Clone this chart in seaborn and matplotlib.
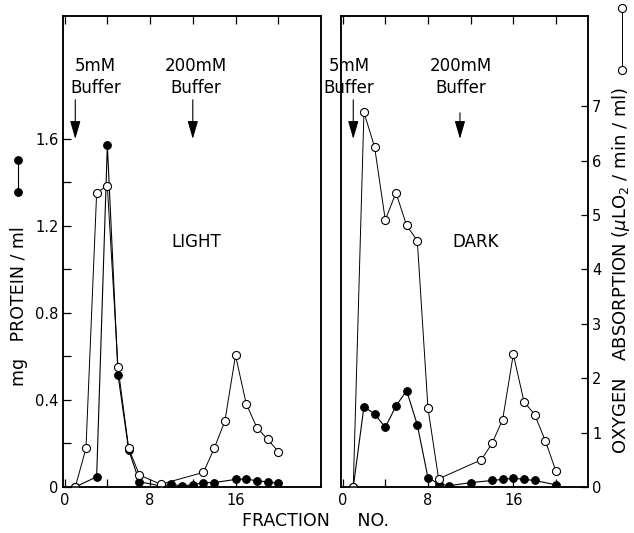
import numpy as np
import pandas as pd
import seaborn as sns
import matplotlib.pyplot as plt
from matplotlib.lines import Line2D

# fraction numbers and values
light_protein_x = [1, 3, 4, 5, 6, 7, 9, 10, 11, 12, 13, 14, 16, 17, 18, 19, 20]
light_protein_y = [0, 0.047, 1.572, 0.515, 0.17, 0.024, 0.005, 0.012, 0.005, 0.01,
                   0.02, 0.02, 0.035, 0.037, 0.028, 0.024, 0.017]
light_oxygen_x = [1, 2, 3, 4, 5, 6, 7, 9, 13, 14, 15, 16, 17, 18, 19, 20]
light_oxygen_y = [0, 0.71, 5.41, 5.54, 2.2, 0.71, 0.22, 0.05, 0.27, 0.71, 1.21,
                  2.42, 1.53, 1.09, 0.88, 0.65]

dark_protein_x = [1, 2, 3, 4, 5, 6, 7, 8, 9, 10, 12, 14, 15, 16, 17, 18, 20]
dark_protein_y = [0, 0.369, 0.336, 0.274, 0.372, 0.443, 0.286, 0.043, 0.014, 0.006,
                  0.02, 0.03, 0.035, 0.04, 0.035, 0.03, 0.01]
dark_oxygen_x = [1, 2, 3, 4, 5, 6, 7, 8, 9, 13, 14, 15, 16, 17, 18, 19, 20]
dark_oxygen_y = [0, 6.89, 6.25, 4.91, 5.41, 4.81, 4.53, 1.45, 0.15, 0.5, 0.8,
                 1.24, 2.44, 1.57, 1.33, 0.85, 0.29]

protein_ticks = [0, 0.4, 0.8, 1.2, 1.6]
oxygen_ticks = [0, 1, 2, 3, 4, 5, 6, 7]
fraction_ticks = [0, 8, 16]

sns.set_style("ticks")
plt.rcParams['font.family'] = ['DejaVu Sans']
plt.rcParams['axes.linewidth'] = 1.1
plt.rcParams['text.color'] = 'k'
plt.rcParams['xtick.color'] = 'k'
plt.rcParams['ytick.color'] = 'k'
plt.rcParams['axes.edgecolor'] = 'k'

fig = plt.figure(figsize=(6.34, 5.33), dpi=100)
ax1 = fig.add_axes([63/634, 46/533, 258/634, 471/533])
ax2 = fig.add_axes([341/634, 46/533, 247/634, 471/533])

filled = dict(marker='o', color='k', lw=0.8, markersize=5.5,
              markerfacecolor='k', markeredgecolor='k', markeredgewidth=0.8)
opened = dict(marker='o', color='k', lw=0.7, markersize=5.8,
              markerfacecolor='w', markeredgecolor='k', markeredgewidth=0.8)


def panel(ax, px, py, ox, oy, xmax, label, lab_x, arrows):
    sns.lineplot(x=px, y=py, ax=ax, **filled)
    ax.set_ylim(0, 2.165)
    ax.set_xlim(-0.15, xmax)
    tw = ax.twinx()
    sns.lineplot(x=ox, y=oy, ax=tw, **opened)
    tw.set_ylim(0, 8.66)
    for a in (ax, tw):
        a.set_xlabel('')
        a.set_ylabel('')
        for s in a.spines.values():
            s.set_visible(True)
            s.set_linewidth(1.1)
            s.set_color('k')
    ax.set_xticks(np.arange(0, 21, 4))
    ax.set_xticklabels([str(t) if t in fraction_ticks else '' for t in range(0, 21, 4)])
    ax.tick_params(axis='x', direction='in', length=6, width=0.9, top=True,
                   labelsize=10.5, pad=4)
    ax.text(lab_x, 1.127, label, ha='center', va='center', fontsize=12)
    for (ax_x, tx, y0) in arrows:
        ax.text(tx, 1.885, '5mM\nBuffer' if ax_x < 5 else '200mM\nBuffer',
                ha='center', va='center', fontsize=12, linespacing=1.25,
                clip_on=False)
        ax.annotate('', xy=(ax_x, 1.60), xytext=(ax_x, y0),
                    arrowprops=dict(arrowstyle='-|>,head_length=1.1,head_width=0.32',
                                    color='k', lw=0.8, shrinkA=0, shrinkB=0))
    return tw


tw1 = panel(ax1, light_protein_x, light_protein_y, light_oxygen_x, light_oxygen_y,
            24, 'LIGHT', 12.3, [(1, 2.9, 1.78), (12, 12.3, 1.78)])
tw2 = panel(ax2, dark_protein_x, dark_protein_y, dark_oxygen_x, dark_oxygen_y,
            23, 'DARK', 12.45, [(1, 0.6, 1.78), (11, 11.1, 1.72)])

ax1.set_yticks(np.arange(0, 1.61, 0.2))
ax1.set_yticklabels([('0' if t == 0 else f'{t:.1f}') if round(t, 1) in protein_ticks
                     else '' for t in np.arange(0, 1.61, 0.2)])
ax1.tick_params(axis='y', direction='in', length=6, width=0.9, labelsize=10.5, pad=3)
tw1.set_yticks([])

ax2.set_yticks([])
tw2.set_yticks(oxygen_ticks)
tw2.set_yticklabels([str(t) for t in oxygen_ticks])
tw2.tick_params(axis='y', direction='in', length=5, width=0.9, labelsize=10.5, pad=3)

# axis titles
fig.text(19/634, 1 - 306/533, 'mg   PROTEIN / ml', rotation=90, ha='center',
         va='center', fontsize=12.5)
fig.text(621/634, 1 - 270/533, 'OXYGEN   ABSORPTION ($\\mu$LO$_2$ / min / ml)',
         rotation=90, ha='center', va='center', fontsize=13)
fig.text(316/634, 1 - 521/533, 'FRACTION     NO.', ha='center', va='center',
         fontsize=12.5)

# symbol keys next to the axis titles
fig.add_artist(Line2D([18/634, 18/634], [1 - 160/533, 1 - 192/533],
                      transform=fig.transFigure, **filled))
fig.add_artist(Line2D([622/634, 622/634], [1 - 8/533, 1 - 70/533],
                      transform=fig.transFigure, **opened))

plt.savefig("out.png", dpi=100)
